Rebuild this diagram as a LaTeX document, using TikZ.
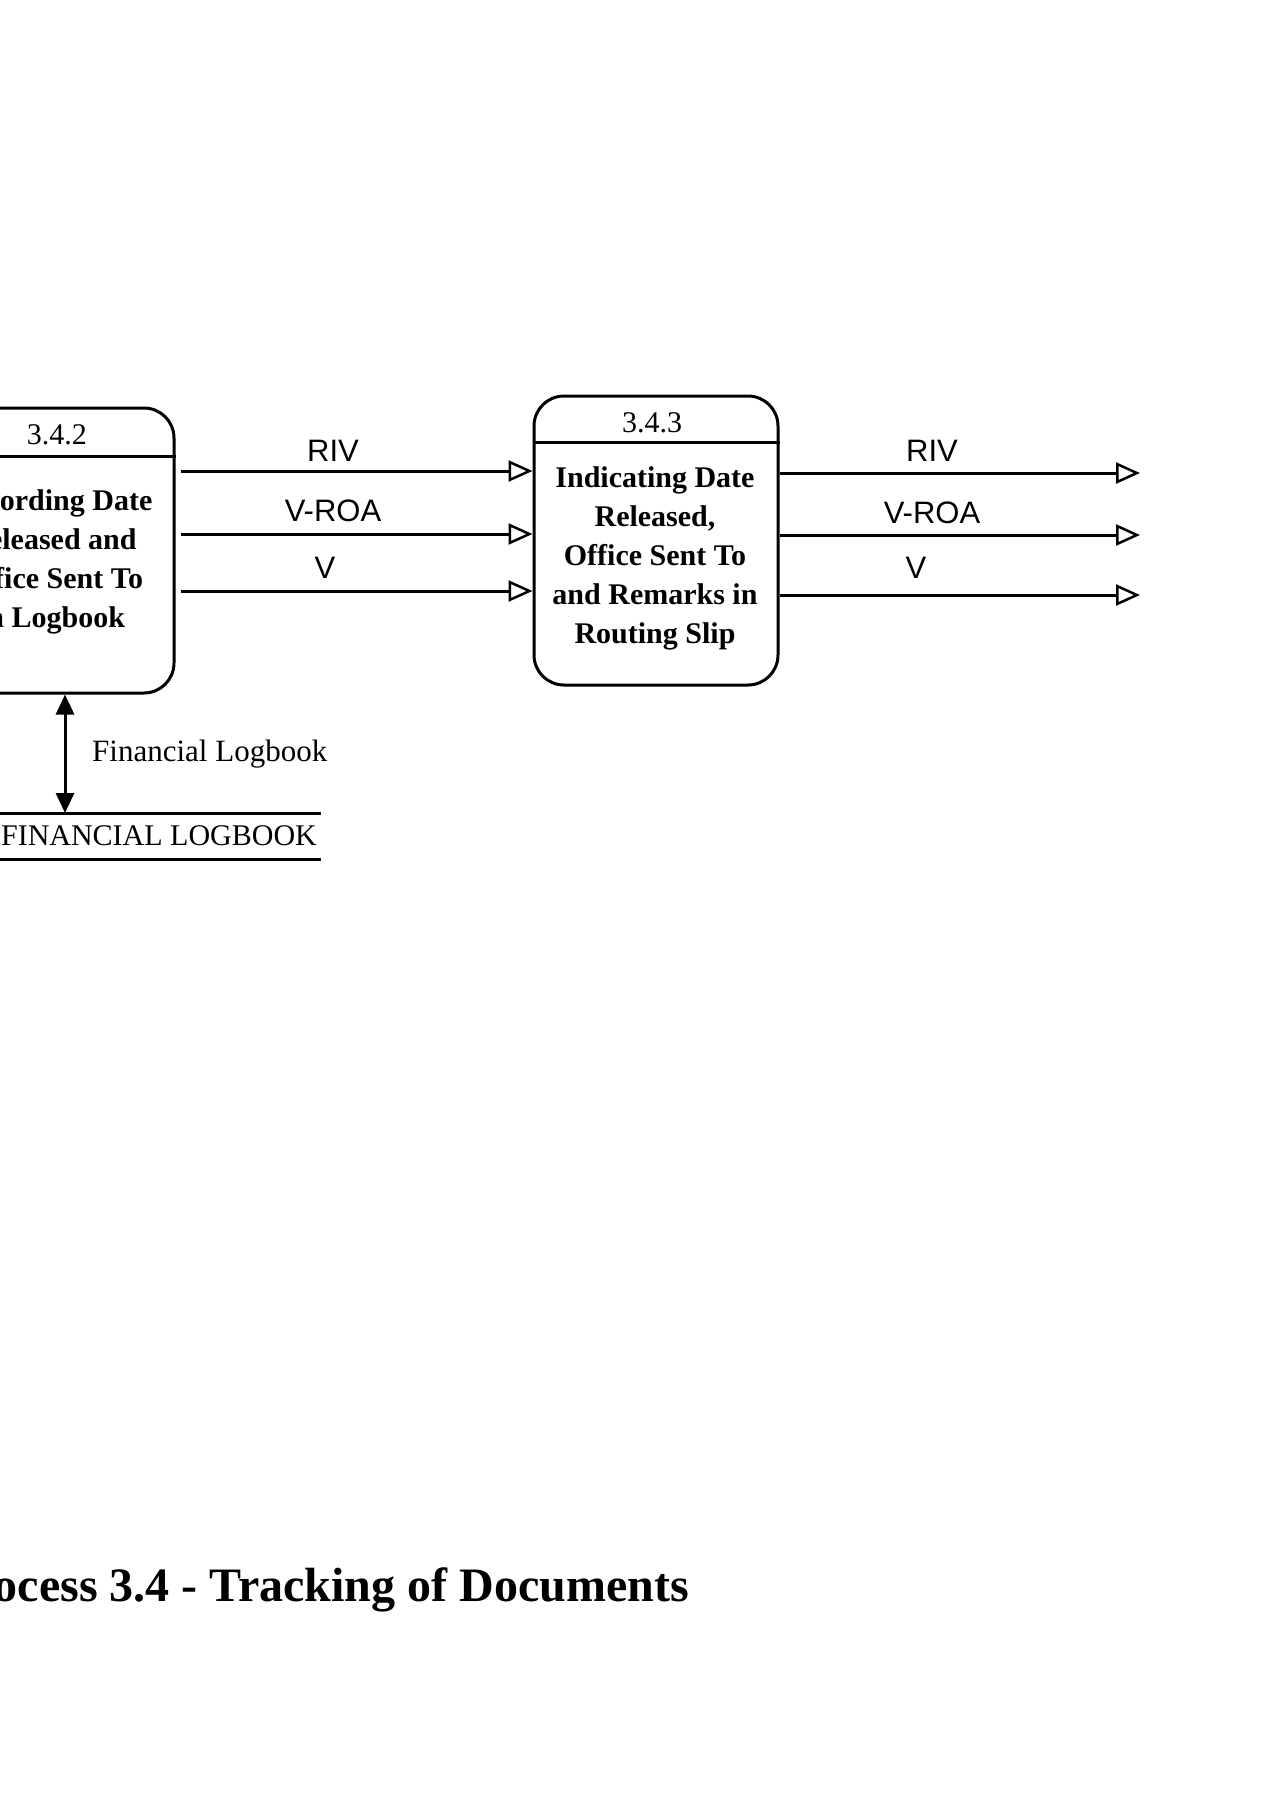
\documentclass[tikz,border=0pt]{standalone}
\usepackage{fontspec}
\setmainfont{Liberation Serif}
\setsansfont{Liberation Sans}
\usetikzlibrary{arrows.meta}
\begin{document}
\begin{tikzpicture}[x=1pt,y=-1pt,
  procbox/.style={draw, line width=3pt, rounded corners=30pt, minimum width=244pt, inner sep=0pt},
  proctext/.style={align=center, inner sep=0pt, font=\fontsize{30}{39}\selectfont\bfseries},
  headtext/.style={inner sep=0pt, font=\fontsize{30}{30}\selectfont},
  flow/.style={line width=3pt, -{Triangle[open, length=24pt, width=21pt, line width=2.5pt]}},
  bothflow/.style={line width=3pt, {Triangle[length=20pt, width=18pt]}-{Triangle[length=20pt, width=18pt]}},
  flowlabel/.style={inner sep=0pt, font=\fontsize{31}{31}\selectfont\sffamily},
  storeline/.style={line width=3pt},
  storetext/.style={inner sep=0pt, font=\fontsize{30}{30}\selectfont},
  caption/.style={inner sep=0pt, anchor=east, font=\fontsize{48}{48}\selectfont\bfseries}
]
\useasboundingbox (0,0) rectangle (1272,1800);

% process 3.4.2 (cut off at the left edge)
\node[procbox, minimum height=285pt] (p2) at (52,550.5) {};
\draw[line width=3pt] (p2.west |- 0,456) -- (p2.east |- 0,456);
\node[headtext] (h2) at (57,435) {3.4.2};
\node[proctext] (t2) at (52,562) {Recording Date\\Released and\\Office Sent To\\in Logbook};

% process 3.4.3
\node[procbox, minimum height=289pt] (p3) at (656,540.5) {};
\draw[line width=3pt] (p3.west |- 0,442) -- (p3.east |- 0,442);
\node[headtext] (h3) at (652,423) {3.4.3};
\node[proctext] (t3) at (655,558) {Indicating Date\\Released,\\Office Sent To\\and Remarks in\\Routing Slip};

% flows between the processes
\coordinate (a1) at (181,471);
\coordinate (a2) at (181,534);
\coordinate (a3) at (181,591);
\draw[flow] (a1) -- (a1 -| p3.west);
\draw[flow] (a2) -- (a2 -| p3.west);
\draw[flow] (a3) -- (a3 -| p3.west);
\node[flowlabel] (l1) at (333,451) {RIV};
\node[flowlabel] (l2) at (333,511) {V-ROA};
\node[flowlabel] (l3) at (325,568) {V};

% flows out of 3.4.3
\coordinate (b1) at (1140,473);
\coordinate (b2) at (1140,535);
\coordinate (b3) at (1140,595);
\draw[flow] (b1 -| p3.east) -- (b1);
\draw[flow] (b2 -| p3.east) -- (b2);
\draw[flow] (b3 -| p3.east) -- (b3);
\node[flowlabel] (r1) at (932,451) {RIV};
\node[flowlabel] (r2) at (932,513) {V-ROA};
\node[flowlabel] (r3) at (916,568) {V};

% data store
\node[storetext] (fl) at (159,836) {FINANCIAL LOGBOOK};
\coordinate (s1) at (-40,813);
\coordinate (s2) at (321,813);
\coordinate (s3) at (-40,859);
\coordinate (s4) at (321,859);
\draw[storeline] (s1) -- (s2);
\draw[storeline] (s3) -- (s4);
\coordinate (st) at (65,813);
\draw[bothflow] (p2.south -| st) -- (st);
\node[storetext, anchor=west, font=\fontsize{31}{31}\selectfont] (fll) at (92,754) {Financial Logbook};

% caption
\node[caption] (cap) at (689,1590) {Process 3.4 - Tracking of Documents};
\end{tikzpicture}
\end{document}
